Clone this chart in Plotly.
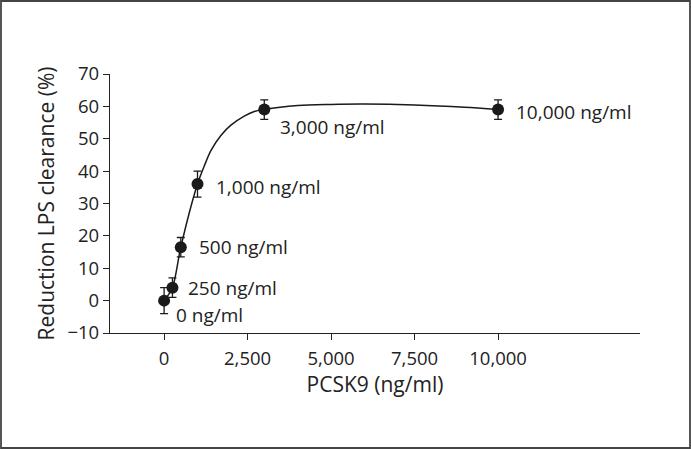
import plotly.graph_objects as go

# measured points
conc = [0, 250, 500, 1000, 3000, 10000]
reduction = [0, 4, 16.5, 36, 59, 59]
err = [4, 3, 3, 4, 3, 3]
labels = ["0 ng/ml", "250 ng/ml", "500 ng/ml", "1,000 ng/ml", "3,000 ng/ml", "10,000 ng/ml"]

# fitted curve
fit_x = [0, 250, 500, 1000, 1200, 1400, 1700, 2000, 2400, 2700, 3000, 4000, 5000, 6000, 7500, 9000, 10000]
fit_y = [0, 4, 16.5, 36, 41.5, 46.3, 51, 54.2, 57, 58.4, 59.1, 60.3, 60.6, 60.7, 60.4, 59.7, 59]

# label placement (x shift px, y shift px)
lab_shift = [(10, -14), (14, 0), (16, 0), (16, -3), (14, -17), (16, -2)]

fig = go.Figure()
fig.add_trace(go.Scatter(
    x=fit_x, y=fit_y, mode="lines",
    line=dict(color="#1a1a1a", width=1.5, shape="spline", smoothing=0.8),
    hoverinfo="skip", showlegend=False))
fig.add_trace(go.Scatter(
    x=conc, y=reduction, mode="markers",
    marker=dict(color="#1a1a1a", size=12),
    error_y=dict(type="data", array=err, color="#1a1a1a", thickness=1.3, width=4),
    showlegend=False))

for xv, yv, t, (dx, dy) in zip(conc, reduction, labels, lab_shift):
    fig.add_annotation(x=xv, y=yv, text=t, showarrow=False, xanchor="left",
                       yanchor="middle", xshift=dx, yshift=dy,
                       font=dict(size=19, color="#222"))

W, H = 691, 449
l, r, t, b = 110, 51, 74, 116
pw, ph = W - l - r, H - t - b
fig.add_shape(type="rect", xref="paper", yref="paper",
              x0=-(l - 1) / pw, x1=1 + (r - 1) / pw,
              y0=-(b - 1) / ph, y1=1 + (t - 1) / ph,
              line=dict(color="#444", width=1.8))

fig.update_layout(
    width=W, height=H, margin=dict(l=l, r=r, t=t, b=b),
    paper_bgcolor="white", plot_bgcolor="white",
    font=dict(family="Open Sans, Noto Sans, sans-serif", size=17.5, color="#222"),
    xaxis=dict(range=[-1620, 14250], tickvals=[0, 2500, 5000, 7500, 10000],
               ticktext=["0", "2,500", "5,000", "7,500", "10,000"],
               tickfont=dict(size=18.5),
               showline=True, linecolor="#222", linewidth=1.3, ticks="outside",
               ticklen=6, tickcolor="#222", showgrid=False, zeroline=False,
               ticklabelstandoff=3,
               title=dict(text="PCSK9 (ng/ml)", standoff=6)),
    yaxis=dict(range=[-10, 70], tickvals=list(range(-10, 71, 10)),
               ticktext=["\u221210"] + [str(v) for v in range(0, 71, 10)],
               tickfont=dict(size=18.5),
               showline=True, linecolor="#222", linewidth=1.3, ticks="outside",
               ticklen=6, tickcolor="#222", showgrid=False, zeroline=False,
               title=dict(text="Reduction LPS clearance (%)", standoff=7)),
)
fig.write_html("out.html", config={"displayModeBar": False},
               post_script="document.body.style.margin='0px';")
